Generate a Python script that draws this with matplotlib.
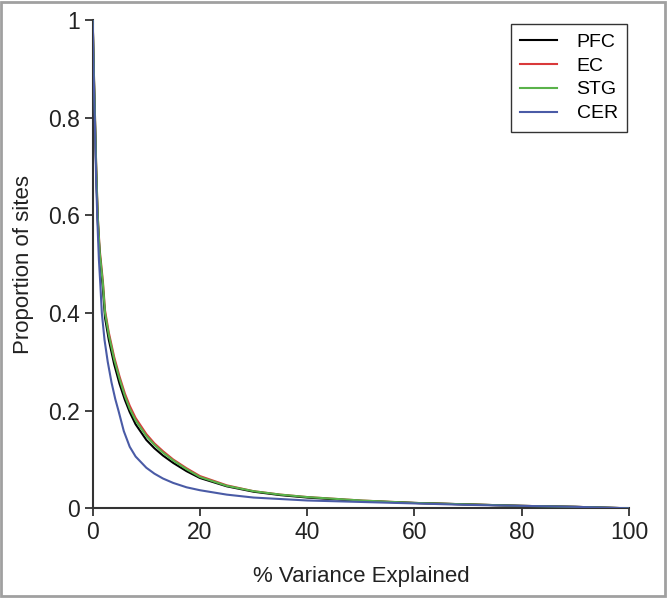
import matplotlib.pyplot as plt
from matplotlib.patches import Rectangle

plt.rcParams["font.family"] = ["Liberation Sans", "DejaVu Sans"]

# values (x = % variance explained, y = proportion of sites)
x_main = [0, 0.2, 0.43, 0.65, 0.93, 1.3, 1.9, 2.3, 3.0, 4.0, 5.0, 6.0, 6.9, 8.0, 10, 11.5,
          13.1, 15, 17.5, 20, 25, 30, 35, 40, 50, 60, 70, 80, 90, 100]
pfc = [1.0, 0.89, 0.79, 0.69, 0.59, 0.52, 0.45, 0.39, 0.345, 0.295, 0.255, 0.222, 0.197,
       0.172, 0.14, 0.123, 0.108, 0.093, 0.076, 0.062, 0.045, 0.034, 0.027, 0.022, 0.015,
       0.011, 0.008, 0.005, 0.003, 0.0]
ec = [1.0, 0.9, 0.8, 0.7, 0.6, 0.53, 0.465, 0.405, 0.36, 0.31, 0.27, 0.235, 0.21,
      0.185, 0.152, 0.133, 0.117, 0.1, 0.082, 0.066, 0.047, 0.035, 0.028, 0.023, 0.016,
      0.011, 0.008, 0.005, 0.003, 0.0]
stg = [1.0, 0.9, 0.8, 0.7, 0.6, 0.525, 0.46, 0.4, 0.355, 0.305, 0.265, 0.23, 0.204,
       0.18, 0.148, 0.13, 0.114, 0.098, 0.08, 0.064, 0.046, 0.035, 0.028, 0.023, 0.016,
       0.011, 0.008, 0.005, 0.003, 0.0]
x_cer = [0, 0.2, 0.43, 0.65, 0.9, 1.15, 1.43, 1.7, 2.2, 2.8, 3.5, 4.2, 4.8, 5.8, 6.9, 8.0,
         10, 11.5, 13.1, 15, 17.5, 20, 25, 30, 40, 50, 60, 70, 80, 90, 100]
cer = [1.0, 0.88, 0.78, 0.67, 0.58, 0.51, 0.457, 0.4, 0.345, 0.3, 0.258, 0.224, 0.2,
       0.158, 0.126, 0.106, 0.083, 0.071, 0.061, 0.052, 0.043, 0.037, 0.028, 0.022,
       0.016, 0.013, 0.010, 0.007, 0.005, 0.003, 0.0]

fig = plt.figure(figsize=(6.67, 5.98), dpi=100)
ax = fig.add_axes([0.139, 0.150, 0.804, 0.8166])

ax.plot(x_main, ec, color="#d9393a", lw=1.5, label="EC", zorder=2)
ax.plot(x_main, pfc, color="black", lw=1.5, label="PFC", zorder=3)
ax.plot(x_main, stg, color="#5ab24a", lw=1.5, label="STG", zorder=4)
ax.plot(x_cer, cer, color="#4a5ba6", lw=1.5, label="CER", zorder=5)

ax.set_xlim(0, 100)
ax.set_ylim(0, 1)
ax.set_xticks([0, 20, 40, 60, 80, 100])
ax.set_yticks([0, 0.2, 0.4, 0.6, 0.8, 1])
ax.set_yticklabels(["0", "0.2", "0.4", "0.6", "0.8", "1"])

for side in ["top", "right"]:
    ax.spines[side].set_visible(False)
for side in ["left", "bottom"]:
    ax.spines[side].set_color("#333333")
    ax.spines[side].set_linewidth(1.5)
ax.tick_params(direction="out", length=6, width=1.3, color="#333333",
               labelsize=16.5, labelcolor="#222222", pad=3)

ax.set_xlabel("% Variance Explained", fontsize=16, color="#222222", labelpad=16)
ax.set_ylabel("Proportion of sites", fontsize=16, color="#222222", labelpad=10)

handles, labels = ax.get_legend_handles_labels()
order = [1, 0, 2, 3]
leg = ax.legend([handles[i] for i in order], [labels[i] for i in order],
                loc="upper right", bbox_to_anchor=(1.0, 0.996), fontsize=14,
                frameon=True, fancybox=False, handlelength=1.9, handletextpad=1.0,
                labelspacing=0.32, borderpad=0.48, borderaxespad=0.1)
leg.get_frame().set_edgecolor("black")
leg.get_frame().set_linewidth(1.0)

fig.patches.append(Rectangle((0.002, 0.003), 0.995, 0.994, transform=fig.transFigure,
                             fill=False, edgecolor="#a0a0a0", lw=2.0))

fig.savefig("out.png", dpi=100)
